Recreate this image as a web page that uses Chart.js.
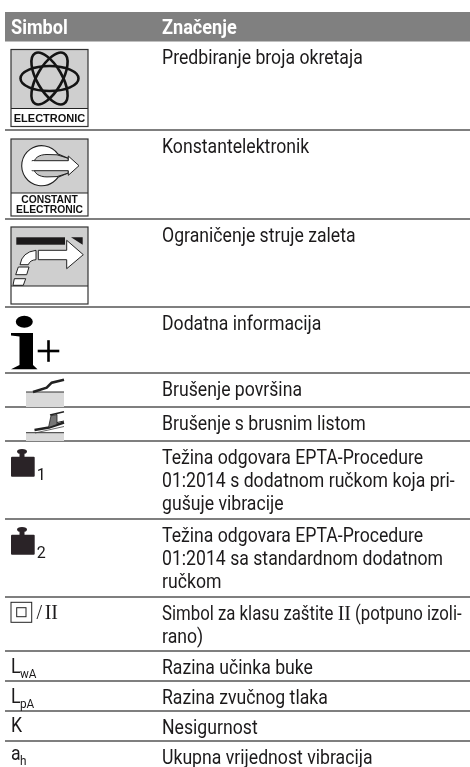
<!DOCTYPE html>
<html>
<head>
<meta charset="utf-8">
<style>
  html, body { margin: 0; padding: 0; background: #fff; }
  canvas { display: block; }
</style>
<script src="https://cdn.jsdelivr.net/npm/chart.js@4/dist/chart.umd.min.js"></script>
</head>
<body>
<canvas id="tablica" width="470" height="767"></canvas>
<script>
const headers = ["Simbol", "Značenje"];

// bottom edge of each row
const rowEnds = [130, 219, 307, 373, 407, 441, 519, 597, 651, 681, 711, 741];
const headerTop = 12;
const headerBottom = 41.5;

const symbols = ["electronic", "constant", "limit", "info", "surface", "sheet",
  "weight1", "weight2", "class2", "LwA", "LpA", "K", "ah"];

const meanings = [
  ["Predbiranje broja okretaja"],
  ["Konstantelektronik"],
  ["Ograničenje struje zaleta"],
  ["Dodatna informacija"],
  ["Brušenje površina"],
  ["Brušenje s brusnim listom"],
  ["Težina odgovara EPTA-Procedure", "01:2014 s dodatnom ručkom koja pri-", "gušuje vibracije"],
  ["Težina odgovara EPTA-Procedure", "01:2014 sa standardnom dodatnom", "ručkom"],
  ["Simbol za klasu zaštite II (potpuno izoli-", "rano)"],
  ["Razina učinka buke"],
  ["Razina zvučnog tlaka"],
  ["Nesigurnost"],
  ["Ukupna vrijednost vibracija"]
];

const leftEdge = 5, rightEdge = 470, col1 = 11, col2 = 162;
const ink = "#1c1a1b";
const bodyFont = "19.5px Roboto";
const serifFont = "20px 'Liberation Serif'";
const squeeze = 0.905; // the original face is narrower than Roboto
const lineHeight = 23.4;
const columnWidth = 299; // longest line stays inside this

// draws condensed text, returns the advance
function text(c, str, x, y, font, sx) {
  const s = sx === undefined ? squeeze : sx;
  c.save();
  c.font = font;
  c.translate(x, y);
  c.scale(s, 1);
  c.fillText(str, 0, 0);
  const w = c.measureText(str).width * s;
  c.restore();
  return w;
}

function poly(c, pts, fill, stroke, lw) {
  c.beginPath();
  pts.forEach((p, i) => i ? c.lineTo(p[0], p[1]) : c.moveTo(p[0], p[1]));
  c.closePath();
  if (fill) { c.fillStyle = fill; c.fill(); }
  if (stroke) { c.strokeStyle = stroke; c.lineWidth = lw || 1; c.stroke(); }
}

function line(c, pts, stroke, lw) {
  c.beginPath();
  pts.forEach((p, i) => i ? c.lineTo(p[0], p[1]) : c.moveTo(p[0], p[1]));
  c.strokeStyle = stroke;
  c.lineWidth = lw;
  c.stroke();
}

function box(c) {
  c.fillStyle = "#cfcfcf";
  c.fillRect(0, 0, 77, 77);
}

function boxEdge(c, band) {
  c.fillStyle = "#fff";
  c.fillRect(0, band, 77, 77 - band);
  line(c, [[0, band], [77, band]], "#222", 1);
  c.strokeStyle = "#333";
  c.lineWidth = 1.2;
  c.strokeRect(0, 0, 77, 77);
}

const icons = {
  electronic(c) {
    box(c);
    c.strokeStyle = "#141414";
    c.lineWidth = 2.6;
    [0, Math.PI / 3, -Math.PI / 3].forEach(a => {
      c.beginPath();
      c.ellipse(38.5, 29, 29, 12.5, a, 0, Math.PI * 2);
      c.stroke();
    });
    boxEdge(c, 59);
    c.fillStyle = "#111";
    c.font = "bold 11px 'Liberation Sans'";
    c.textAlign = "center";
    c.fillText("ELECTRONIC", 38.5, 72.5);
    c.textAlign = "left";
  },
  constant(c) {
    box(c);
    // white ring, open towards the arrow
    c.beginPath();
    c.arc(30.7, 26.7, 20, -0.62, 0.62, true);
    c.lineTo(57.3, 34);
    c.lineTo(57.3, 19.4);
    c.closePath();
    c.fillStyle = "#fff";
    c.fill();
    c.strokeStyle = "#222";
    c.lineWidth = 1.1;
    c.stroke();
    // grey hole behind the shaft
    c.beginPath();
    c.moveTo(22.3, 26.7);
    c.bezierCurveTo(22.3, 19, 28, 15.5, 36, 15.5);
    c.lineTo(46, 15.8);
    c.lineTo(57.3, 19.4);
    c.lineTo(57.3, 34);
    c.lineTo(46, 37.6);
    c.lineTo(36, 37.9);
    c.bezierCurveTo(28, 37.9, 22.3, 34.4, 22.3, 26.7);
    c.closePath();
    c.fillStyle = "#c6c6c6";
    c.fill();
    c.strokeStyle = "#222";
    c.lineWidth = 1;
    c.stroke();
    poly(c, [[21, 21.7], [57.3, 21.7], [57.3, 17], [68, 26.7], [57.3, 36.3], [57.3, 31.7], [21, 31.7]], "#fff", "#222", 1);
    c.fillStyle = "#fff";
    c.fillRect(18, 22.2, 5, 9);
    boxEdge(c, 54);
    c.fillStyle = "#111";
    c.font = "bold 10.3px 'Liberation Sans'";
    c.textAlign = "center";
    c.fillText("CONSTANT", 38.5, 63.7);
    c.fillText("ELECTRONIC", 38.5, 73.7);
    c.textAlign = "left";
  },
  limit(c) {
    box(c);
    c.fillStyle = "#1c1a1b";
    c.fillRect(5.3, 10.3, 48.7, 7.4);
    poly(c, [[60, 10.3], [71.7, 10.3], [71.7, 17.7]], "#1c1a1b");
    poly(c, [[27.3, 23.3], [55.7, 23.3], [55.7, 13.3], [72.3, 27.7], [55.7, 41.7], [55.7, 32.7], [27.3, 32.7]], "#fff", "#222", 1);
    c.beginPath();
    c.moveTo(9, 37.7);
    c.quadraticCurveTo(11, 25, 25, 23.3);
    c.lineTo(25, 32.7);
    c.quadraticCurveTo(19, 33, 17.3, 37.7);
    c.closePath();
    c.fillStyle = "#fff"; c.fill();
    c.strokeStyle = "#222"; c.lineWidth = 1; c.stroke();
    poly(c, [[7.3, 40], [18, 40], [15.7, 47.7], [4.7, 47.7]], "#fff", "#222", 1);
    poly(c, [[3.3, 51.7], [14.7, 51.7], [12.3, 58.3], [2, 58.3]], "#fff", "#222", 1);
    boxEdge(c, 59);
  },
  info(c) {
    c.fillStyle = "#000";
    c.beginPath();
    c.ellipse(13.3, 14.7, 8.5, 6, 0, 0, Math.PI * 2);
    c.fill();
    poly(c, [[0, 26], [22, 26], [22, 58], [26.5, 62.3], [0, 62.3], [8.5, 58], [8.5, 29.5], [0, 28.5]], "#000");
    c.fillRect(26.7, 42.7, 21.6, 2.6);
    c.fillRect(36.2, 33.2, 2.6, 21.6);
  },
  surface(c) {
    c.fillStyle = "#d9d9d9";
    c.fillRect(15, 19, 38, 15);
    line(c, [[15, 19], [53, 19]], "#333", 1);
    line(c, [[22, 19], [35.7, 14.7], [40.7, 9.7], [53, 6.7]], "#222", 2.6);
  },
  sheet(c) {
    c.fillStyle = "#d9d9d9";
    c.fillRect(15, 25.7, 38, 8.3);
    line(c, [[15, 25.7], [53, 25.7]], "#333", 1);
    line(c, [[23.5, 23], [38, 20.5], [53, 15.5]], "#222", 2.4);
    line(c, [[24, 26], [53, 19.5]], "#444", 0.8);
    poly(c, [[37.5, 20.5], [40, 8.7], [46, 7.5], [46, 17.5]], "#777", "#222", 0.8);
    line(c, [[39, 8], [53, 4.7]], "#222", 1.4);
    line(c, [[46, 15.5], [53, 14]], "#222", 1);
  },
  weight1(c) { weight(c, "1"); },
  weight2(c) { weight(c, "2"); },
  class2(c) {
    c.strokeStyle = "#222";
    c.lineWidth = 1;
    c.strokeRect(0, 0, 20.7, 20);
    c.strokeRect(5.7, 5.4, 9.3, 9);
    c.fillStyle = ink;
    c.font = serifFont;
    c.fillText("/", 25.5, 16.7);
    c.fillText("II", 33.7, 16.7);
  },
  LwA(c) { sub(c, "L", "wA"); },
  LpA(c) { sub(c, "L", "pA"); },
  K(c) { sub(c, "K", ""); },
  ah(c) { sub(c, "a", "h"); }
};

function weight(c, n) {
  c.fillStyle = "#2a2327";
  c.beginPath();
  c.ellipse(11, 2.5, 5, 2.5, 0, 0, Math.PI * 2);
  c.fill();
  c.fillRect(8.5, 3, 5, 5.5);
  c.beginPath();
  c.roundRect(0, 7.7, 23.7, 20, 1);
  c.fill();
  c.fillStyle = ink;
  text(c, n, 25.7, 31, "16px Roboto", 1);
}

function sub(c, main, low) {
  c.fillStyle = ink;
  const w = text(c, main, 0, 0, bodyFont);
  if (low) text(c, low, w - 0.5, 4.5, "13px Roboto");
}

// where each symbol starts, relative to the top of its row
const iconOffsets = {
  electronic: [11, 8], constant: [11, 9], limit: [11, 8], info: [11, 0],
  surface: [11, 0], sheet: [11, 0], weight1: [11, 8], weight2: [11, 8],
  class2: [11, 5.3], LwA: [11, 22], LpA: [11, 22], K: [11, 21], ah: [11, 19]
};

// one line of the meaning column, the class number is set in serif
function meaningLine(c, row, px, base) {
  const parts = row.split(/(?<= )(II)(?= )/);
  const partWidth = p => {
    c.font = p === "II" ? serifFont : bodyFont;
    return c.measureText(p).width * (p === "II" ? 1 : squeeze);
  };
  const total = parts.reduce((s, p) => s + partWidth(p), 0);
  const fit = Math.min(1, columnWidth / total);
  parts.forEach(p => {
    if (p === "II") px += text(c, p, px, base, serifFont, 1);
    else px += text(c, p, px, base, bodyFont, squeeze * fit);
  });
}

const tablePlugin = {
  id: "tablePlugin",
  afterDatasetsDraw(chart) {
    const c = chart.ctx;
    const x = chart.scales.x, y = chart.scales.y;
    c.save();
    c.textBaseline = "alphabetic";

    c.fillStyle = "#fff";
    const headerFont = "bold 20px Roboto";
    text(c, headers[0], x.getPixelForValue(col1), y.getPixelForValue(headerBottom - 8), headerFont);
    text(c, headers[1], x.getPixelForValue(col2), y.getPixelForValue(headerBottom - 8), headerFont);

    symbols.forEach((name, i) => {
      const top = i ? rowEnds[i - 1] : headerBottom;
      const off = iconOffsets[name];
      c.save();
      c.translate(x.getPixelForValue(off[0]), y.getPixelForValue(top + off[1]));
      icons[name](c);
      c.restore();

      c.fillStyle = ink;
      meanings[i].forEach((row, k) => {
        meaningLine(c, row, x.getPixelForValue(col2), y.getPixelForValue(top + 22.5 + k * lineHeight));
      });
    });
    c.restore();
  }
};

// horizontal rules, one broken line through every row end
const rulePoints = [];
rowEnds.forEach(v => {
  rulePoints.push({ x: leftEdge, y: v }, { x: rightEdge, y: v }, { x: NaN, y: NaN });
});

new Chart(document.getElementById("tablica"), {
  type: "scatter",
  data: {
    datasets: [
      {
        label: "header",
        showLine: true,
        data: [
          { x: leftEdge, y: (headerTop + headerBottom) / 2 },
          { x: rightEdge, y: (headerTop + headerBottom) / 2 }
        ],
        borderColor: "#808080",
        borderWidth: headerBottom - headerTop,
        borderCapStyle: "butt",
        pointRadius: 0
      },
      {
        label: "rules",
        showLine: true,
        spanGaps: false,
        data: rulePoints,
        borderColor: "#000",
        borderWidth: 1.2,
        borderCapStyle: "butt",
        pointRadius: 0
      }
    ]
  },
  options: {
    responsive: false,
    animation: false,
    layout: { padding: 0 },
    plugins: { legend: { display: false }, tooltip: { enabled: false } },
    scales: {
      x: { type: "linear", min: 0, max: 470, display: false },
      y: { type: "linear", min: 0, max: 767, reverse: true, display: false }
    }
  },
  plugins: [tablePlugin]
});
</script>
</body>
</html>
